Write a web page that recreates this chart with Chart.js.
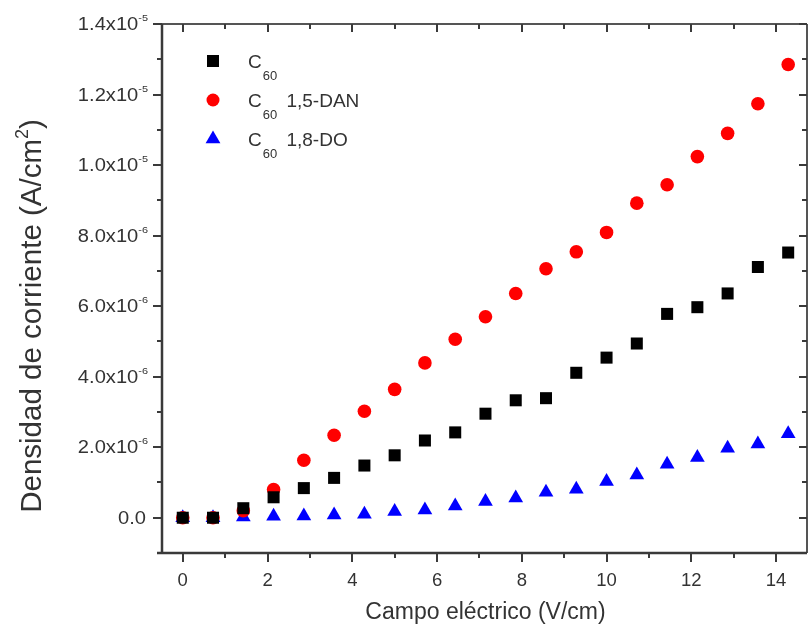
<!DOCTYPE html>
<html>
<head>
<meta charset="utf-8">
<script src="https://cdn.jsdelivr.net/npm/chart.js@4/dist/chart.umd.min.js"></script>
<style>
  html, body { margin: 0; padding: 0; background: #fff; overflow: hidden; }
  canvas { display: block; }
</style>
</head>
<body>
<canvas id="chart" width="808" height="632"></canvas>
<script>
// electric field (V/cm)
const campo = [0, 0.714, 1.429, 2.143, 2.857, 3.571, 4.286, 5, 5.714, 6.429, 7.143,
  7.857, 8.571, 9.286, 10, 10.714, 11.429, 12.143, 12.857, 13.571, 14.286];

// current density, in units of 1e-6 A/cm2
const c60 = [0, 0, 0.27, 0.58, 0.84, 1.13, 1.48, 1.77, 2.19, 2.42, 2.95,
  3.33, 3.39, 4.11, 4.54, 4.94, 5.78, 5.97, 6.36, 7.11, 7.52];
const c60Dan = [0, 0, 0.2, 0.8, 1.63, 2.34, 3.02, 3.64, 4.39, 5.06, 5.7,
  6.36, 7.06, 7.54, 8.09, 8.92, 9.44, 10.24, 10.9, 11.74, 12.85];
const c60Do = [0, 0, 0.02, 0.04, 0.05, 0.08, 0.1, 0.18, 0.22, 0.33, 0.46,
  0.56, 0.72, 0.81, 1.03, 1.21, 1.52, 1.71, 1.97, 2.09, 2.38];

// axis ticks
const xTicks = [0, 2, 4, 6, 8, 10, 12, 14];
const xMinor = [1, 3, 5, 7, 9, 11, 13];
const yTicks = [0, 2, 4, 6, 8, 10, 12, 14];
const yMinor = [1, 3, 5, 7, 9, 11, 13];
const yTickText = ["0.0", "2.0x10", "4.0x10", "6.0x10", "8.0x10", "1.0x10", "1.2x10", "1.4x10"];
const yTickExp = ["", "-6", "-6", "-6", "-6", "-5", "-5", "-5"];

const legendNames = ["", " 1,5-DAN", " 1,8-DO"];

const FONT = '"Liberation Sans", Arial, sans-serif';
const INK = "#333";

function txt(ctx, s, x, y, size, align, sx) {
  ctx.save();
  ctx.font = size + "px " + FONT;
  ctx.translate(x, y);
  ctx.scale(sx || 1, 1);
  ctx.textAlign = align || "left";
  ctx.textBaseline = "alphabetic";
  ctx.fillText(s, 0, 0);
  ctx.restore();
}
function w(ctx, s, size, sx) {
  ctx.save();
  ctx.font = size + "px " + FONT;
  const m = ctx.measureText(s).width * (sx || 1);
  ctx.restore();
  return m;
}

function marker(ctx, style, color, x, y) {
  ctx.save();
  ctx.fillStyle = color;
  ctx.beginPath();
  if (style === "rect") {
    ctx.rect(x - 6, y - 6, 12, 12);
  } else if (style === "circle") {
    ctx.arc(x, y, 6.5, 0, Math.PI * 2);
  } else {
    ctx.moveTo(x, y - 8.5);
    ctx.lineTo(x + 7.4, y + 4.3);
    ctx.lineTo(x - 7.4, y + 4.3);
    ctx.closePath();
  }
  ctx.fill();
  ctx.restore();
}

const framePlugin = {
  id: "frame",
  afterDraw(chart) {
    const { ctx, chartArea: a, scales } = chart;
    const x = scales.x, y = scales.y;
    ctx.save();

    // frame
    ctx.strokeStyle = "#555";
    ctx.lineWidth = 2;
    ctx.beginPath();
    ctx.moveTo(a.left, a.top); ctx.lineTo(a.right, a.top);
    ctx.moveTo(a.right, a.top); ctx.lineTo(a.right, a.bottom);
    ctx.stroke();
    ctx.strokeStyle = "#3a3a3a";
    ctx.lineWidth = 2.5;
    ctx.beginPath();
    ctx.moveTo(a.left, a.top); ctx.lineTo(a.left, a.bottom);
    ctx.moveTo(a.left - 5, a.bottom); ctx.lineTo(a.right, a.bottom);
    ctx.stroke();

    // ticks
    ctx.lineWidth = 2;
    ctx.strokeStyle = "#3a3a3a";
    ctx.beginPath();
    xTicks.forEach(v => {
      const px = Math.round(x.getPixelForValue(v));
      ctx.moveTo(px, a.bottom); ctx.lineTo(px, a.bottom + 9);
      ctx.moveTo(px, a.top); ctx.lineTo(px, a.top + 8);
    });
    xMinor.forEach(v => {
      const px = Math.round(x.getPixelForValue(v));
      ctx.moveTo(px, a.bottom); ctx.lineTo(px, a.bottom + 5);
      ctx.moveTo(px, a.top); ctx.lineTo(px, a.top + 5);
    });
    yTicks.forEach(v => {
      const py = Math.round(y.getPixelForValue(v));
      ctx.moveTo(a.left, py); ctx.lineTo(a.left - 9, py);
      ctx.moveTo(a.right, py); ctx.lineTo(a.right - 8, py);
    });
    yMinor.forEach(v => {
      const py = Math.round(y.getPixelForValue(v));
      ctx.moveTo(a.left, py); ctx.lineTo(a.left - 5, py);
      ctx.moveTo(a.right, py); ctx.lineTo(a.right - 5, py);
    });
    ctx.stroke();

    ctx.fillStyle = INK;
    // x tick labels
    xTicks.forEach(v => {
      txt(ctx, String(v), x.getPixelForValue(v), a.bottom + 33, 18.5, "center");
    });
    // y tick labels with exponent
    const sx = 1.15, mainSize = 17.5, supSize = 9.5;
    yTicks.forEach((v, i) => {
      const py = y.getPixelForValue(v);
      const right = yTickExp[i] ? 148 : 146;
      const ew = yTickExp[i] ? w(ctx, yTickExp[i], supSize, sx) : 0;
      const mw = w(ctx, yTickText[i], mainSize, sx);
      txt(ctx, yTickText[i], right - ew - mw, py + 6, mainSize, "left", sx);
      if (yTickExp[i]) txt(ctx, yTickExp[i], right - ew, py - 3, supSize, "left", sx);
    });

    // axis titles
    txt(ctx, "Campo eléctrico (V/cm)", (a.left + a.right) / 2 + 1, 619, 23, "center");

    ctx.save();
    ctx.translate(41, 316);
    ctx.rotate(-Math.PI / 2);
    const fs = 29.5;
    const t1 = "Densidad de corriente (A/cm", t2 = "2", t3 = ")";
    const w1 = w(ctx, t1, fs), w2 = w(ctx, t2, 18), w3 = w(ctx, t3, fs);
    let sxp = -(w1 + w2 + w3) / 2;
    txt(ctx, t1, sxp, 0, fs); sxp += w1;
    txt(ctx, t2, sxp, -13, 18); sxp += w2;
    txt(ctx, t3, sxp, 0, fs);
    ctx.restore();

    // legend
    const rows = [61, 100, 139];
    chart.data.datasets.forEach((ds, i) => {
      const ry = rows[i];
      marker(ctx, ds.pointStyle, ds.backgroundColor, 213, ry);
      ctx.fillStyle = INK;
      txt(ctx, "C", 248, ry + 7, 19);
      const cw = w(ctx, "C", 19);
      txt(ctx, "60", 248 + cw + 1, ry + 18.5, 13);
      const sw = w(ctx, "60", 13);
      if (legendNames[i]) txt(ctx, legendNames[i], 248 + cw + 1 + sw + 4, ry + 7, 19);
    });

    ctx.restore();
  }
};

const toXY = arr => arr.map((v, i) => ({ x: campo[i], y: v }));

new Chart(document.getElementById("chart"), {
  type: "scatter",
  data: {
    datasets: [
      { label: "C60", data: toXY(c60), pointStyle: "rect", pointRadius: 8.5,
        backgroundColor: "#000000", borderWidth: 0 },
      { label: "C60 1,5-DAN", data: toXY(c60Dan), pointStyle: "circle", pointRadius: 6.8,
        backgroundColor: "#ff0000", borderWidth: 0 },
      { label: "C60 1,8-DO", data: toXY(c60Do), pointStyle: "triangle", pointRadius: 8.5,
        backgroundColor: "#0000ff", borderWidth: 0 }
    ]
  },
  options: {
    responsive: false,
    animation: false,
    events: [],
    clip: false,
    layout: { autoPadding: false, padding: { left: 162, top: 24, right: 1, bottom: 79 } },
    plugins: { legend: { display: false }, tooltip: { enabled: false } },
    scales: {
      x: { type: "linear", min: -0.49, max: 14.73, display: false },
      y: { type: "linear", min: -1, max: 14, display: false }
    }
  },
  plugins: [framePlugin]
});
</script>
</body>
</html>
